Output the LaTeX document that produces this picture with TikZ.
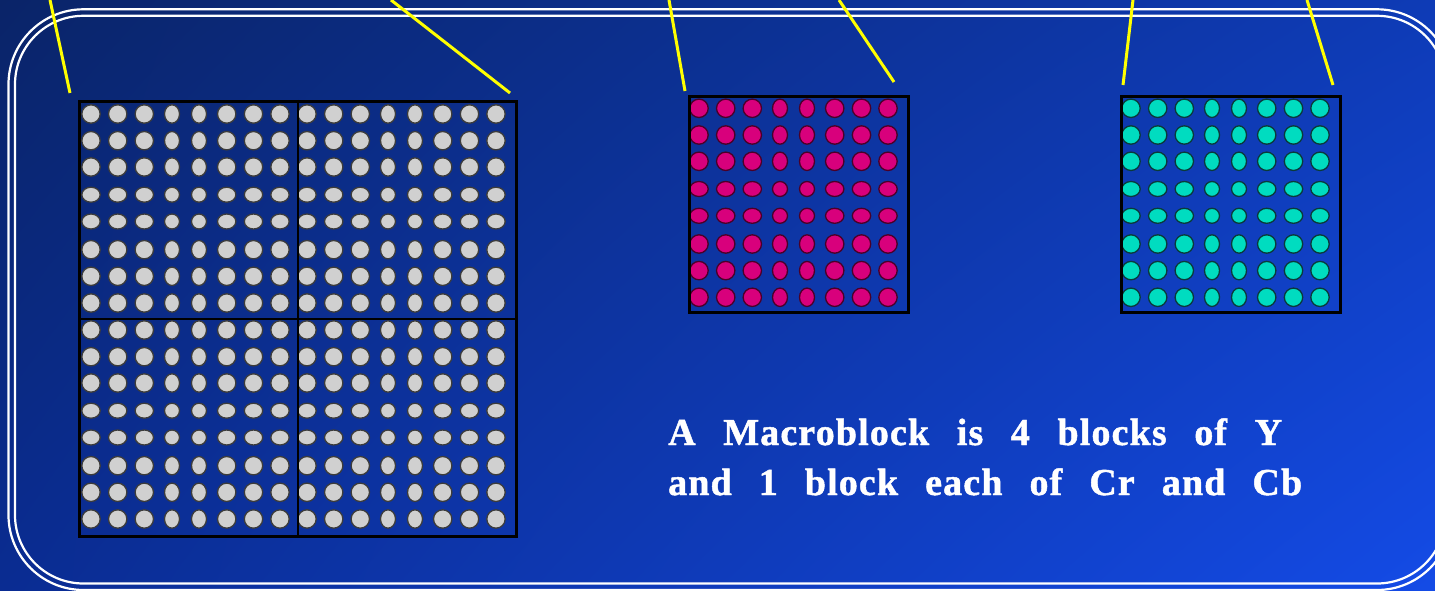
\documentclass[tikz,border=0pt]{standalone}
\usepackage{fontspec}
\usetikzlibrary{shadings}
\setmainfont{Liberation Serif}
\newfontfamily\capfont[LetterSpace=3,FakeBold=1.2]{Liberation Serif Bold}
\definecolor{bgUL}{HTML}{0A2468}
\definecolor{bgUR}{HTML}{0E3BB6}
\definecolor{bgLL}{HTML}{0A2C92}
\definecolor{bgLR}{HTML}{144BE6}
\definecolor{yfill}{HTML}{D0D0D0}
\definecolor{ydraw}{HTML}{3C3C3C}
\definecolor{crfill}{HTML}{D8007C}
\definecolor{crdraw}{HTML}{4A0028}
\definecolor{cbfill}{HTML}{00DCC0}
\definecolor{cbdraw}{HTML}{0A3A3A}
\definecolor{guide}{HTML}{FFFF00}
\tikzset{
  border/.style={draw=white, line width=2.2pt, rounded corners=#1},
  blockframe/.style={draw=black, line width=2.8pt},
  guideline/.style={draw=guide, line width=3pt},
  dot/.style={line width=1.3pt},
  caption/.style={anchor=base west, inner sep=0pt, text=white,
    font=\capfont\fontsize{38}{46}\selectfont}
}
\newcommand\pixblock[3]{%
  \foreach \dx [count=\i] in {0,26.7,53.3,81,108,135.7,162.5,189}{%
    \foreach \dy [count=\j] in {0,26.7,53,80.7,107.5,135.7,162.3,189}{%
      \pgfmathsetmacro\rx{ifthenelse(or(\i==4,\i==5),7.5,9.2)}%
      \pgfmathsetmacro\ry{ifthenelse(or(\j==4,\j==5),7.5,9.2)}%
      \draw[dot,#3] ({#1+\dx},{#2+\dy}) ellipse [x radius=\rx pt, y radius=\ry pt];
    }%
  }%
}
\begin{document}
\begin{tikzpicture}[x=1pt,y=-1pt]
\useasboundingbox (0,0) rectangle (1435,591);
\shade[upper left=bgUL, upper right=bgUR, lower left=bgLL, lower right=bgLR]
  (0,0) rectangle (1435,591);
% double rounded border
\draw[border=75pt] (8.5,9.3) rectangle (1452,590);
\draw[border=68.5pt] (15,15.8) rectangle (1445.5,583.5);
% Y block (4 blocks)
\pixblock{91}{114}{fill=yfill, draw=ydraw}
\pixblock{307}{114}{fill=yfill, draw=ydraw}
\pixblock{91}{330}{fill=yfill, draw=ydraw}
\pixblock{307}{330}{fill=yfill, draw=ydraw}
\node[blockframe, minimum width=437pt, minimum height=435pt, inner sep=0pt, anchor=north west] (Y) at (78,100) {};
\draw[blockframe] (Y.north) -- (Y.south);
\draw[blockframe] (Y.west) -- (Y.east);
% Cr block
\pixblock{699}{108.3}{fill=crfill, draw=crdraw}
\node[blockframe, minimum width=219pt, minimum height=216pt, inner sep=0pt, anchor=north west] (Cr) at (688,95) {};
% Cb block
\pixblock{1131}{108.3}{fill=cbfill, draw=cbdraw}
\node[blockframe, minimum width=219pt, minimum height=216pt, inner sep=0pt, anchor=north west] (Cb) at (1120,95) {};
% guide lines
\coordinate (ya) at (50,0);   \coordinate (yae) at (70,93);
\coordinate (yb) at (391,0);  \coordinate (ybe) at (510,93);
\coordinate (ra) at (669,0);  \coordinate (rae) at (685,91);
\coordinate (rb) at (839,0);  \coordinate (rbe) at (894,82);
\coordinate (ba) at (1133,0); \coordinate (bae) at (1123,85);
\coordinate (bb) at (1307,0); \coordinate (bbe) at (1333,85);
\draw[guideline] (ya) -- (yae);
\draw[guideline] (yb) -- (ybe);
\draw[guideline] (ra) -- (rae);
\draw[guideline] (rb) -- (rbe);
\draw[guideline] (ba) -- (bae);
\draw[guideline] (bb) -- (bbe);
% caption
\node[caption] (l1) at (668,445) {\hbox to 614pt{A\hfill Macroblock\hfill is\hfill 4\hfill blocks\hfill of\hfill Y}};
\node[caption] (l2) at (668,495) {\hbox to 634pt{and\hfill 1\hfill block\hfill each\hfill of\hfill Cr\hfill and\hfill Cb}};
\end{tikzpicture}
\end{document}
